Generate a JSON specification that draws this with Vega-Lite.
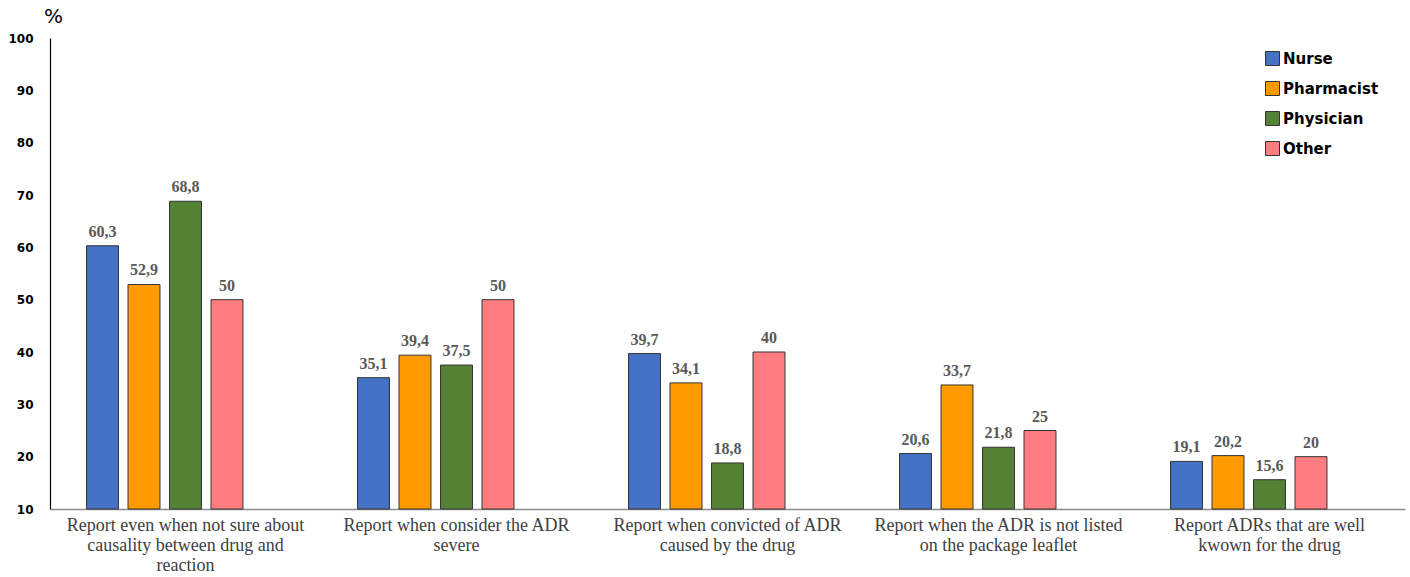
{
  "$schema": "https://vega.github.io/schema/vega-lite/v6.json",
  "autosize": {"type": "none"},
  "padding": {"left": 50, "top": 38, "right": 5, "bottom": 68},
  "width": 1355,
  "height": 471,
  "background": "white",
  "config": {"view": {"stroke": null}},
  "data": {
    "values": [
      {"item": "Report even when not sure about|causality between drug and|reaction", "group": "Nurse", "value": 60.3},
      {"item": "Report even when not sure about|causality between drug and|reaction", "group": "Pharmacist", "value": 52.9},
      {"item": "Report even when not sure about|causality between drug and|reaction", "group": "Physician", "value": 68.8},
      {"item": "Report even when not sure about|causality between drug and|reaction", "group": "Other", "value": 50},
      {"item": "Report when consider the ADR|severe", "group": "Nurse", "value": 35.1},
      {"item": "Report when consider the ADR|severe", "group": "Pharmacist", "value": 39.4},
      {"item": "Report when consider the ADR|severe", "group": "Physician", "value": 37.5},
      {"item": "Report when consider the ADR|severe", "group": "Other", "value": 50},
      {"item": "Report when convicted of ADR|caused by the drug", "group": "Nurse", "value": 39.7},
      {"item": "Report when convicted of ADR|caused by the drug", "group": "Pharmacist", "value": 34.1},
      {"item": "Report when convicted of ADR|caused by the drug", "group": "Physician", "value": 18.8},
      {"item": "Report when convicted of ADR|caused by the drug", "group": "Other", "value": 40},
      {"item": "Report when the ADR is not listed|on the package leaflet", "group": "Nurse", "value": 20.6},
      {"item": "Report when the ADR is not listed|on the package leaflet", "group": "Pharmacist", "value": 33.7},
      {"item": "Report when the ADR is not listed|on the package leaflet", "group": "Physician", "value": 21.8},
      {"item": "Report when the ADR is not listed|on the package leaflet", "group": "Other", "value": 25},
      {"item": "Report ADRs that are well|kwown for the drug", "group": "Nurse", "value": 19.1},
      {"item": "Report ADRs that are well|kwown for the drug", "group": "Pharmacist", "value": 20.2},
      {"item": "Report ADRs that are well|kwown for the drug", "group": "Physician", "value": 15.6},
      {"item": "Report ADRs that are well|kwown for the drug", "group": "Other", "value": 20}
    ]
  },
  "transform": [
    {"calculate": "replace(toString(datum.value), '.', ',')", "as": "label"}
  ],
  "encoding": {
    "x": {
      "field": "item", "type": "nominal", "sort": null,
      "scale": {"paddingInner": 0, "paddingOuter": 0},
      "axis": {
        "title": null, "labelAngle": 0, "ticks": false, "labelLimit": 0,
        "labelExpr": "split(datum.label, '|')",
        "labelFont": "Liberation Serif", "labelFontSize": 18, "labelColor": "#404040",
        "labelLineHeight": 20, "labelPadding": 7,
        "domainColor": "#8c8c8c", "domainWidth": 1.5
      }
    },
    "xOffset": {
      "field": "group", "type": "nominal",
      "scale": {"domain": ["Nurse", "Pharmacist", "Physician", "Other", "_"], "paddingInner": 0.23, "paddingOuter": 0.88}
    },
    "y": {
      "field": "value", "type": "quantitative",
      "scale": {"domain": [10, 100], "zero": false, "nice": false},
      "axis": {
        "title": "%", "titleAngle": 0, "titleX": 3, "titleY": -12, "titleAlign": "center",
        "titleBaseline": "bottom", "titleFont": "DejaVu Sans", "titleFontSize": 20,
        "titleFontWeight": "normal", "titleColor": "#000000",
        "values": [10, 20, 30, 40, 50, 60, 70, 80, 90, 100],
        "grid": false, "ticks": false, "labelPadding": 17,
        "labelFont": "DejaVu Sans", "labelFontSize": 12, "labelFontWeight": "bold", "labelColor": "#000000",
        "domainColor": "#000000", "domainWidth": 1.2
      }
    }
  },
  "layer": [
    {
      "mark": {"type": "bar", "stroke": "#333333", "strokeWidth": 1},
      "encoding": {
        "y2": {"datum": 10},
        "color": {
          "field": "group", "type": "nominal",
          "scale": {"domain": ["Nurse", "Pharmacist", "Physician", "Other"], "range": ["#4472C4", "#FF9A00", "#548235", "#FF7C80"]},
          "legend": {
            "title": null, "orient": "none", "legendX": 1215, "legendY": 13,
            "symbolType": "square", "symbolSize": 196, "symbolStrokeColor": "#333333", "symbolStrokeWidth": 1,
            "labelFont": "DejaVu Sans", "labelFontSize": 15, "labelFontWeight": "bold", "labelColor": "#000000",
            "rowPadding": 11, "labelOffset": 3
          }
        }
      }
    },
    {
      "mark": {"type": "text", "baseline": "bottom", "dy": -6, "font": "Liberation Serif", "fontSize": 16, "fontWeight": "bold", "color": "#595959"},
      "encoding": {"text": {"field": "label"}}
    }
  ]
}
